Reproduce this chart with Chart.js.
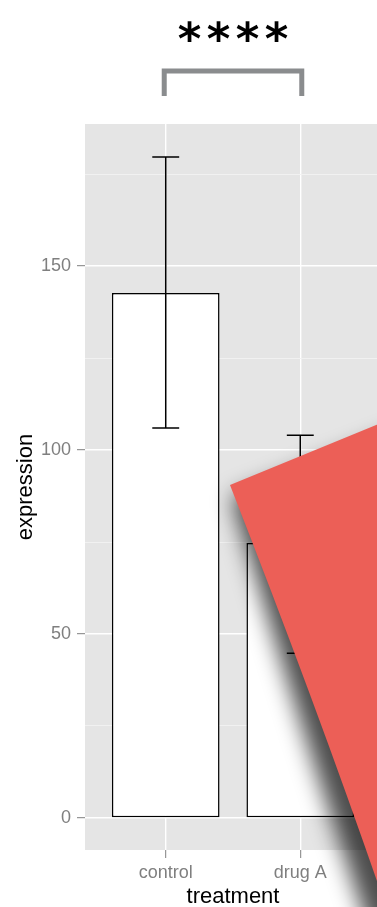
<!DOCTYPE html>
<html>
<head>
<meta charset="utf-8">
<script src="https://cdn.jsdelivr.net/npm/chart.js@4.4.1/dist/chart.umd.min.js"></script>
<style>
  html, body { margin: 0; padding: 0; background: #fff; overflow: hidden; }
  #wrap { width: 377px; height: 907px; overflow: hidden; }
</style>
</head>
<body>
<div id="wrap"><canvas id="bars" width="381" height="907"></canvas></div>
<script>
const treatments = ['control', 'drug A'];
const expressionMean = [142.7, 74.7];
const errLow = [106, 44.8];
const errHigh = [179.6, 104];
const significance = '****';

const panelGrey = '#e5e5e5';
const tickGrey = '#7f7f7f';

// grey panel behind the grid, ggplot style
const panelBg = {
    id: 'panelBg',
    beforeDraw(chart) {
        const a = chart.chartArea, ctx = chart.ctx;
        ctx.save();
        ctx.fillStyle = panelGrey;
        ctx.fillRect(a.left, a.top, a.right - a.left, a.bottom - a.top);
        ctx.restore();
    }
};

const errorBars = {
    id: 'errorBars',
    afterDatasetsDraw(chart) {
        const ctx = chart.ctx, x = chart.scales.x, y = chart.scales.y;
        ctx.save();
        ctx.strokeStyle = '#000';
        ctx.lineWidth = 1.5;
        treatments.forEach((t, i) => {
            const px = x.getPixelForValue(i);
            const l = x.getPixelForValue(i - 0.1), r = x.getPixelForValue(i + 0.1);
            const top = y.getPixelForValue(errHigh[i]), bot = y.getPixelForValue(errLow[i]);
            ctx.beginPath();
            ctx.moveTo(px, top); ctx.lineTo(px, bot);
            ctx.moveTo(l, top); ctx.lineTo(r, top);
            ctx.moveTo(l, bot); ctx.lineTo(r, bot);
            ctx.stroke();
        });
        ctx.restore();
    }
};

// bracket and stars above the panel
const sigBracket = {
    id: 'sigBracket',
    afterDraw(chart) {
        const ctx = chart.ctx, x = chart.scales.x;
        const x0 = x.getPixelForValue(0) - 1.5, x1 = x.getPixelForValue(1) + 1.5;
        ctx.save();
        ctx.strokeStyle = '#8a8c8e';
        ctx.lineWidth = 5;
        ctx.lineJoin = 'miter';
        ctx.beginPath();
        ctx.moveTo(x0, 96); ctx.lineTo(x0, 71); ctx.lineTo(x1, 71); ctx.lineTo(x1, 96);
        ctx.stroke();
        ctx.fillStyle = '#000';
        ctx.font = 'bold 45px "DejaVu Sans"';
        ctx.textAlign = 'center';
        ctx.textBaseline = 'alphabetic';
        const mid = (x0 + x1) / 2;
        const chars = significance.split('');
        chars.forEach((c, i) => {
            ctx.fillText(c, mid + (i - (chars.length - 1) / 2) * 29, 54);
        });
        ctx.restore();
    }
};

// red sheet curling over the right side, with its soft shadow
const redSheet = {
    id: 'redSheet',
    afterDraw(chart) {
        const ctx = chart.ctx;
        ctx.save();
        ctx.filter = 'blur(11px)';
        ctx.fillStyle = 'rgba(0,0,0,0.7)';
        ctx.beginPath();
        ctx.moveTo(232, 497);
        ctx.lineTo(420, 425);
        ctx.lineTo(420, 960);
        ctx.lineTo(380, 960);
        ctx.quadraticCurveTo(306, 748, 232, 497);
        ctx.closePath();
        ctx.fill();
        ctx.restore();

        ctx.save();
        ctx.fillStyle = '#ec5f57';
        ctx.beginPath();
        ctx.moveTo(230, 485);
        ctx.lineTo(420, 407);
        ctx.lineTo(420, 960);
        ctx.lineTo(404, 960);
        ctx.quadraticCurveTo(330, 740, 230, 485);
        ctx.closePath();
        ctx.fill();
        ctx.restore();
    }
};

new Chart(document.getElementById('bars'), {
    type: 'bar',
    data: {
        datasets: [{
            data: treatments.map((t, i) => ({ x: i, y: expressionMean[i] })),
            backgroundColor: '#fff',
            borderColor: '#000',
            borderWidth: 1.5,
            borderSkipped: false,
            barPercentage: 0.8,
            categoryPercentage: 1
        }]
    },
    options: {
        responsive: false,
        animation: false,
        layout: { padding: { top: 124, left: 0, right: 0, bottom: 0 } },
        plugins: { legend: { display: false }, tooltip: { enabled: false } },
        scales: {
            x: {
                type: 'linear',
                offset: false,
                min: -0.6,
                max: 1.6,
                afterBuildTicks: s => { s.ticks = treatments.map((t, i) => ({ value: i })); },
                afterFit: s => { s.height = 57; },
                border: { display: false },
                grid: { offset: false, color: '#fff', lineWidth: 1.4, tickColor: tickGrey, tickLength: 8, tickWidth: 1 },
                ticks: {
                    padding: 4,
                    color: tickGrey,
                    font: { family: '"Liberation Sans"', size: 18 },
                    callback: v => treatments[v]
                },
                title: {
                    display: true,
                    text: 'treatment',
                    color: '#000',
                    font: { family: '"Liberation Sans"', size: 22 },
                    padding: { top: 0, bottom: -3 }
                }
            },
            y: {
                min: -8.7,
                max: 188.6,
                afterBuildTicks: s => {
                    s.ticks = [0, 25, 50, 75, 100, 125, 150, 175].map(v => ({ value: v }));
                },
                afterFit: s => { s.width = 85; },
                border: { display: false },
                grid: {
                    color: c => c.tick && c.tick.value % 50 === 0 ? '#fff' : '#f2f2f2',
                    lineWidth: c => c.tick && c.tick.value % 50 === 0 ? 1.4 : 0.9,
                    tickColor: c => c.tick && c.tick.value % 50 === 0 ? tickGrey : 'rgba(0,0,0,0)',
                    tickLength: 8,
                    tickWidth: 1
                },
                ticks: {
                    padding: 6,
                    color: tickGrey,
                    font: { family: '"Liberation Sans"', size: 18 },
                    callback: v => v % 50 === 0 ? v : ''
                },
                title: {
                    display: true,
                    text: 'expression',
                    color: '#000',
                    font: { family: '"Liberation Sans"', size: 22 },
                    padding: { top: 13, bottom: 0 }
                }
            }
        }
    },
    plugins: [panelBg, errorBars, sigBracket, redSheet]
});
</script>
</body>
</html>
